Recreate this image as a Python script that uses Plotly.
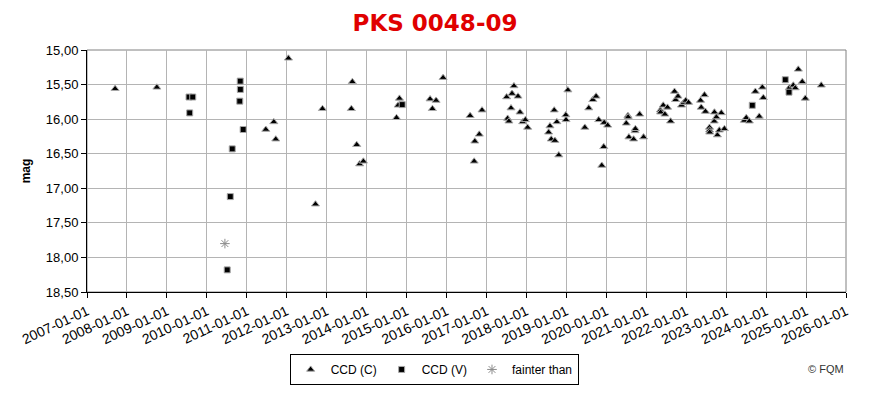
import plotly.graph_objects as go

# CCD (C) observations (triangles)
c_dates = [
    "2007-09-15", "2008-10-01",
    "2011-06-24", "2011-09-05", "2011-09-23", "2012-01-17", "2012-09-20", "2012-11-23",
    "2013-08-14", "2013-08-23", "2013-10-02", "2013-10-29", "2013-12-02",
    "2014-10-01", "2014-10-16", "2014-10-28",
    "2015-08-04", "2015-08-25", "2015-09-28", "2015-12-01",
    "2016-08-04", "2016-09-10", "2016-09-16", "2016-10-27", "2016-11-21",
    "2017-07-04", "2017-07-13", "2017-07-25", "2017-08-13", "2017-08-22", "2017-09-09",
    "2017-10-16", "2017-11-03", "2017-11-28", "2017-12-22", "2018-01-12",
    "2018-07-23", "2018-08-04", "2018-08-16", "2018-09-12", "2018-09-18", "2018-10-06",
    "2018-10-24", "2018-12-27", "2018-12-29", "2019-01-15",
    "2019-06-19", "2019-07-25", "2019-08-31", "2019-09-30", "2019-10-24", "2019-11-21",
    "2019-12-09", "2019-12-13", "2020-01-14",
    "2020-07-02", "2020-07-17", "2020-07-19", "2020-07-26", "2020-09-07", "2020-09-20",
    "2020-09-23", "2020-11-01", "2020-12-07",
    "2021-05-10", "2021-05-12", "2021-06-05", "2021-06-20", "2021-07-14", "2021-08-11",
    "2021-09-16", "2021-09-26", "2021-10-18", "2021-11-19", "2021-12-10", "2021-12-28",
    "2022-01-22",
    "2022-05-12", "2022-05-18", "2022-06-17", "2022-06-26", "2022-08-02", "2022-08-03",
    "2022-08-04", "2022-09-14", "2022-09-16", "2022-10-04", "2022-10-13", "2022-10-31",
    "2022-11-18", "2022-12-16",
    "2023-06-17", "2023-07-04", "2023-08-01", "2023-09-25", "2023-10-31", "2023-11-28",
    "2023-12-07",
    "2024-07-31", "2024-09-06", "2024-09-24", "2024-10-22", "2024-11-27", "2024-12-25",
    "2025-05-20",
]
c_mags = [
    15.56, 15.54,
    16.15, 16.04, 16.29, 15.12, 17.23, 15.85,
    15.85, 15.46, 16.37, 16.65, 16.61,
    15.98, 15.80, 15.70,
    15.71, 15.85, 15.73, 15.40,
    15.95, 16.61, 16.32, 16.22, 15.87,
    15.68, 15.99, 16.03, 15.84, 15.63, 15.52,
    15.67, 15.90, 16.04, 16.01, 16.12,
    16.19, 16.10, 16.29, 15.87, 16.31, 16.04,
    16.52, 15.94, 16.01, 15.58,
    16.12, 15.84, 15.72, 15.67, 16.01, 16.67,
    16.40, 16.05, 16.09,
    16.06, 15.95, 15.97, 16.26, 16.29, 16.17,
    16.14, 15.93, 16.26,
    15.87, 15.90, 15.80, 15.93, 15.83, 16.03,
    15.60, 15.72, 15.67, 15.80, 15.76, 15.73,
    15.76,
    15.73, 15.83, 15.65, 15.89, 16.12, 16.16,
    16.19, 16.03, 15.90, 15.97, 16.23, 16.16,
    15.91, 16.14,
    16.02, 15.98, 16.03, 15.60, 15.96, 15.54,
    15.69,
    15.55, 15.51, 15.55, 15.28, 15.46, 15.70,
    15.51,
]

# CCD (V) observations (squares)
v_dates = [
    "2009-07-22", "2009-07-28", "2009-08-25",
    "2010-07-06", "2010-08-03", "2010-08-21", "2010-10-29", "2010-11-02", "2010-11-03",
    "2010-11-29",
    "2014-11-22", "2023-08-28", "2024-06-25", "2024-07-29",
]
v_mags = [
    15.68, 15.91, 15.68,
    18.18, 17.12, 16.43, 15.74, 15.45, 15.57,
    16.15,
    15.79, 15.80, 15.43, 15.61,
]

# fainter than (upper limits)
f_dates = ["2010-06-15"]
f_mags = [17.80]

y_ticks = [15.0, 15.5, 16.0, 16.5, 17.0, 17.5, 18.0, 18.5]
x_range = ["2007-01-01", "2026-01-01"]

FONT = "Liberation Sans, Arial, sans-serif"

fig = go.Figure()
fig.add_trace(go.Scatter(
    x=c_dates, y=c_mags, mode="markers", name="CCD (C)",
    marker=dict(symbol="triangle-up", size=7, color="black",
                line=dict(color="#a8a8a8", width=1)),
))
fig.add_trace(go.Scatter(
    x=v_dates, y=v_mags, mode="markers", name="CCD (V)",
    marker=dict(symbol="square", size=6, color="black",
                line=dict(color="#a8a8a8", width=1)),
))
fig.add_trace(go.Scatter(
    x=f_dates, y=f_mags, mode="markers", name="fainter than",
    marker=dict(symbol="asterisk-open", size=8, color="#8c8c8c",
                line=dict(color="#8c8c8c", width=1)),
))

# page body has an 8px default margin, compensated here
fig.update_layout(
    width=874, height=394,
    margin=dict(l=77, r=36, t=42, b=110),
    paper_bgcolor="white", plot_bgcolor="white",
    separators=",.",
    font=dict(family=FONT, size=12, color="black"),
    title=dict(text="<b>PKS 0048-09</b>", x=0.4886, xanchor="center",
               y=0.962, yanchor="middle",
               font=dict(family="DejaVu Sans, Verdana, sans-serif", size=23, color="#e00000")),
    showlegend=True,
    legend=dict(orientation="h", x=0.267, xanchor="left", y=-0.256, yanchor="top",
                bordercolor="black", borderwidth=1, bgcolor="white",
                font=dict(family=FONT, size=12, color="black"),
                itemwidth=30, tracegroupgap=0),
    annotations=[dict(text="© FQM", xref="paper", yref="paper", x=1.0, y=-0.32,
                      xanchor="right", yanchor="middle", showarrow=False,
                      font=dict(family=FONT, size=11, color="#333333"))],
    shapes=[dict(type="rect", xref="paper", yref="paper", x0=0, y0=0, x1=1, y1=1,
                 line=dict(color="#808080", width=1), layer="below")],
)

fig.update_xaxes(
    type="date", range=x_range, dtick="M12", tick0="2007-01-01",
    tickformat="%Y-%m-%d", tickangle=-25,
    showgrid=True, gridcolor="#b4b4b4", gridwidth=1,
    showline=True, linecolor="black", linewidth=1,
    ticks="outside", ticklen=5, tickcolor="black",
    tickfont=dict(family=FONT, size=14), zeroline=False,
)
fig.update_yaxes(
    range=[18.5, 15.0], tickvals=y_ticks, tickformat=".2f",
    showgrid=True, gridcolor="#b4b4b4", gridwidth=1,
    showline=True, linecolor="black", linewidth=1,
    ticks="outside", ticklen=5, tickcolor="black",
    tickfont=dict(family=FONT, size=13), zeroline=False,
    title=dict(text="<b>mag</b>", font=dict(family=FONT, size=12), standoff=12),
)

fig.write_html("out.html")
